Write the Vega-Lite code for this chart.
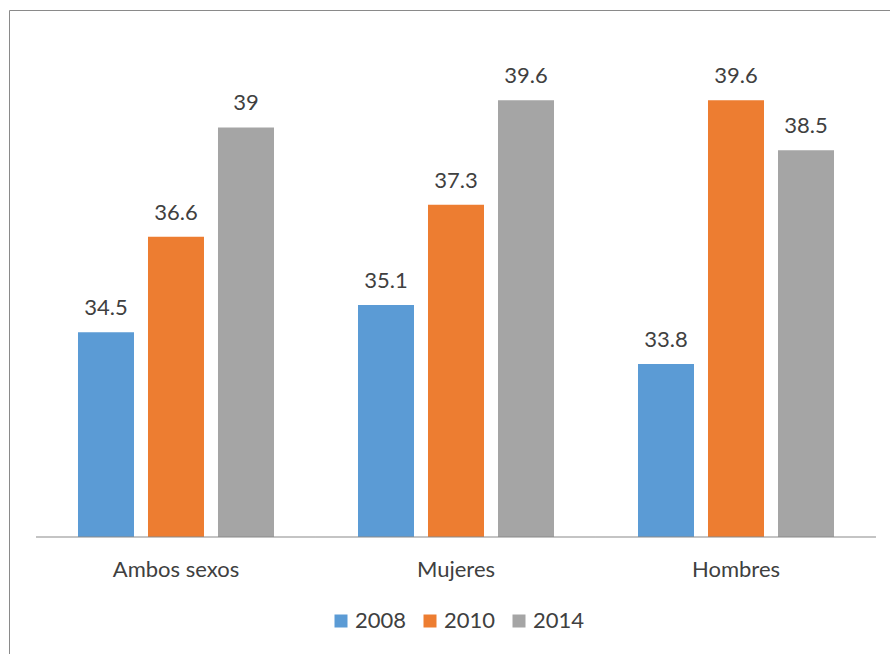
{
  "$schema": "https://vega.github.io/schema/vega-lite/v6.json",
  "width": 881,
  "height": 644,
  "autosize": {"type": "none"},
  "padding": {"left": 9, "top": 10, "right": 0, "bottom": 0},
  "background": "white",
  "config": {
    "view": {"stroke": null},
    "font": "Lato",
    "text": {"font": "Lato"}
  },
  "data": {
    "values": [
      {"grupo": "Ambos sexos", "anio": "2008", "valor": 34.5},
      {"grupo": "Ambos sexos", "anio": "2010", "valor": 36.6},
      {"grupo": "Ambos sexos", "anio": "2014", "valor": 39},
      {"grupo": "Mujeres", "anio": "2008", "valor": 35.1},
      {"grupo": "Mujeres", "anio": "2010", "valor": 37.3},
      {"grupo": "Mujeres", "anio": "2014", "valor": 39.6},
      {"grupo": "Hombres", "anio": "2008", "valor": 33.8},
      {"grupo": "Hombres", "anio": "2010", "valor": 39.6},
      {"grupo": "Hombres", "anio": "2014", "valor": 38.5}
    ]
  },
  "encoding": {
    "x": {
      "field": "grupo",
      "type": "nominal",
      "sort": ["Ambos sexos", "Mujeres", "Hombres"],
      "scale": {"paddingInner": 0, "paddingOuter": 0.0732, "align": 0.6585},
      "axis": {"orient": "top", "labels": false, "ticks": false, "grid": false, "domain": true, "domainColor": "#8a8a8a", "title": null}
    }
  },
  "layer": [
    {
      "mark": {"type": "bar"},
      "encoding": {
        "xOffset": {"field": "anio", "type": "nominal", "scale": {"paddingInner": 0.2, "paddingOuter": 0.6}},
        "y": {
          "field": "valor",
          "type": "quantitative",
          "scale": {"domain": [27.428, 41.582], "nice": false, "zero": false},
          "axis": {"orient": "left", "labels": false, "ticks": false, "grid": false, "domain": true, "domainColor": "#8a8a8a", "title": null}
        },
        "y2": {"datum": 30},
        "color": {
          "field": "anio",
          "type": "nominal",
          "scale": {"domain": ["2008", "2010", "2014"], "range": ["#5B9BD5", "#ED7D31", "#A5A5A5"]},
          "legend": {
            "title": null,
            "orient": "none",
            "direction": "horizontal",
            "legendX": 321,
            "legendY": 600,
            "symbolType": "square",
            "symbolSize": 169,
            "symbolStrokeWidth": 0,
            "labelFont": "Lato",
            "labelFontSize": 22,
            "labelColor": "#404040",
            "labelOffset": 3,
            "columnPadding": 12
          }
        }
      }
    },
    {
      "mark": {"type": "text", "baseline": "middle", "dy": -24, "fontSize": 22, "color": "#404040"},
      "encoding": {
        "xOffset": {"field": "anio", "type": "nominal", "scale": {"paddingInner": 0.2, "paddingOuter": 0.6}},
        "y": {"field": "valor", "type": "quantitative"},
        "text": {"field": "valor", "type": "quantitative"}
      }
    },
    {
      "transform": [{"filter": "datum.anio === '2008'"}],
      "mark": {"type": "tick", "orient": "horizontal", "size": 280, "thickness": 1, "color": "#8a8a8a", "opacity": 1},
      "encoding": {
        "y": {"datum": 30}
      }
    },
    {
      "transform": [{"filter": "datum.anio === '2008'"}],
      "mark": {"type": "text", "baseline": "middle", "fontSize": 22, "color": "#404040"},
      "encoding": {
        "y": {"datum": 29.27},
        "text": {"field": "grupo", "type": "nominal"}
      }
    }
  ]
}
